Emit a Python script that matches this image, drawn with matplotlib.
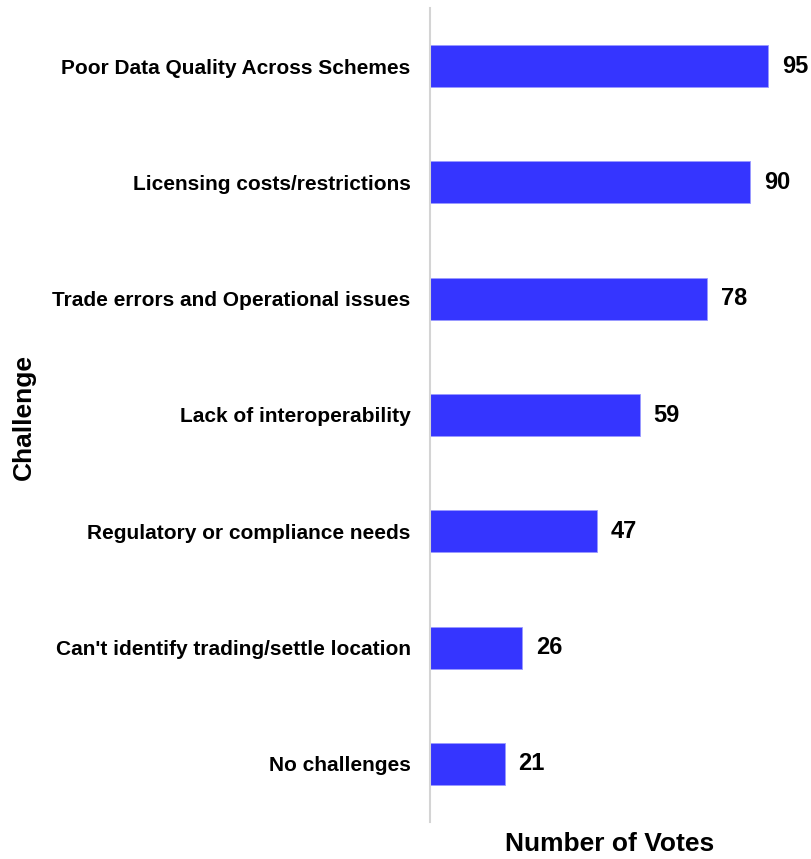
import matplotlib

matplotlib.use("Agg")
import matplotlib.pyplot as plt

challenges = [
    "Poor Data Quality Across Schemes",
    "Licensing costs/restrictions",
    "Trade errors and Operational issues",
    "Lack of interoperability",
    "Regulatory or compliance needs",
    "Can't identify trading/settle location",
    "No challenges",
]
votes = [95, 90, 78, 59, 47, 26, 21]

plt.rcParams["font.family"] = ["Liberation Sans", "DejaVu Sans"]
plt.rcParams["font.weight"] = "bold"

fig = plt.figure(figsize=(8.11, 8.59), dpi=100)
ax = fig.add_axes([430 / 811, 37 / 859, 377 / 811, 814 / 859])

ypos = list(range(len(challenges)))
ax.barh(ypos, votes, height=0.36, color="#3535ff", edgecolor="#9a9aff", linewidth=0.6)
ax.set_ylim(len(challenges) - 0.5, -0.5)
ax.set_xlim(0, 106)

for y, v in zip(ypos, votes):
    ax.annotate(str(v), (v, y), xytext=(10, 0), textcoords="offset points",
                va="center", ha="left", fontsize=17, fontweight="bold")

ax.set_yticks(ypos)
ax.set_yticklabels(challenges, fontsize=15, fontweight="bold")
ax.tick_params(axis="y", length=0, pad=14)
ax.set_xticks([])

for side in ["top", "right", "bottom"]:
    ax.spines[side].set_visible(False)
ax.spines["left"].set_color("#d4d4d4")
ax.spines["left"].set_linewidth(1.5)

fig.text(610 / 811, 1 - 844 / 859, "Number of Votes", fontsize=19,
         fontweight="bold", ha="center", va="center")
fig.text(24 / 811, 1 - 417 / 859, "Challenge", rotation=90, fontsize=19,
         fontweight="bold", ha="center", va="center")

fig.savefig("out.png", dpi=100)
